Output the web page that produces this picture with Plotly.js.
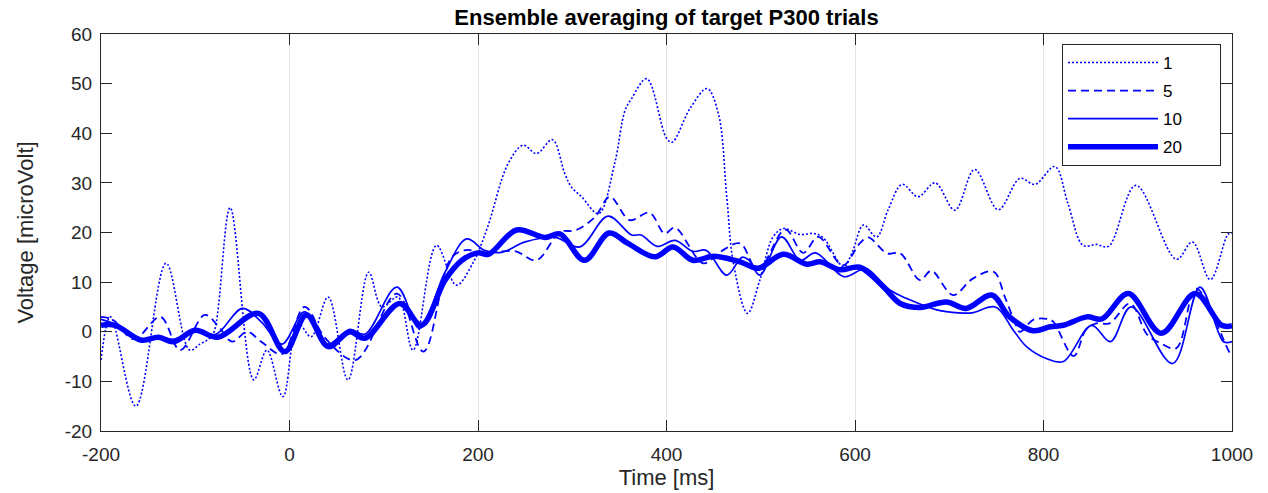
<!DOCTYPE html>
<html>
<head>
<meta charset="utf-8">
<script src="https://cdn.plot.ly/plotly-3.0.1.min.js"></script>
<style>
  html, body { margin: 0; padding: 0; background: #ffffff; }
  #chart { width: 1268px; height: 493px; }
</style>
</head>
<body>
<div id="chart"></div>
<script>
// ---- Data (time in ms, voltage in microVolt) ----
const seriesNames = ["1", "5", "10", "20"];

const time1 = [-200,-190,-163,-131,-106,-95,-86,-80,-63,-38,-24,-7,9,23,41,62,84,98,115,131,156,177,195,210,232,248,262,279,292,299,310,328,345,356,363,379,400,406,425,443,455,464,471,486,499,513,524,542,556,566,588,597,609,623,635,650,667,685,706,727,752,775,791,812,826,842,856,869,898,941,958,977,996,1000];
const v1    = [-5.7,3,-15,13.8,-3.7,-2.5,-1.5,0,25,-9.7,-3.7,-13.1,1.7,-1,7,-9.7,12,5,7,-3.7,17.4,9.4,14,21,33.9,37.6,35.9,38.7,31.9,29.2,27.2,23.8,33.9,44.6,47,51,39,38.2,45,49,44,27,13.8,3.7,10.4,19.1,20.8,19.6,19.8,19,13.1,16,21.5,19.1,24.5,29.7,27.2,30,24.5,32.7,24.6,30.9,29.7,33.3,25.8,17.4,17.6,17.2,29.5,14.6,18.1,10.5,19.7,19.8];

const time5 = [-200,-188,-165,-137,-116,-90,-75,-61,-45,-30,-8,16,38,70,114,142,172,190,200,215,240,262,287,303,324,340,361,382,398,409,439,457,478,497,526,545,561,587,605,614,634,648,669,681,704,725,747,759,770,775,789,803,810,832,845,856,870,892,910,924,941,962,998,1000];
const v5    = [3,2.5,-1.5,3,-3.7,3.4,1,-2,0,-2,-4.5,5,-1.3,-5.7,7.7,-4,15,16.5,15.8,16,16.2,14.4,20.1,20.4,23.1,27.2,22.5,24,19.8,21,13.8,16.1,17.8,12.4,20.6,15.9,19.1,13.4,17.8,19,15.8,15.8,10.4,12.3,7.4,10.7,12.1,7,1.7,0,2.4,2.6,2.1,-4.9,0.4,1.7,1.7,5.7,-0.6,-2.3,-3.3,8.7,-4.3,-4.5];

const time10 = [-200,-185,-160,-140,-123,-100,-78,-50,-30,-8,16,40,64,80,114,138,165,188,207,225,250,282,308,338,363,373,390,409,428,442,464,480,487,499,522,542,558,588,605,612,637,655,687,710,724,749,768,782,803,821,851,871,893,937,966,991,1000];
const v10    = [2.5,1.5,-1.5,-1,-1.5,0,-0.5,4.7,2,-2.5,4,-2.5,0.5,-0.5,9,0.7,12,18.7,16.4,16,18.1,19,17.1,23.3,19.5,19.5,17.2,18.4,16.2,16.4,11.4,15,14.5,11.4,19.1,14.4,15.9,11.1,12.4,12.8,8.4,6.7,4.4,3.8,3.8,5,0.3,-3,-5.4,-6,1.3,-2,5,-6.4,9,-2,-2];

const time20 = [-200,-185,-157,-139,-123,-100,-76,-33,-5,18,41,64,80,117,140,165,183,200,211,241,271,287,313,339,359,388,407,428,450,478,497,524,549,563,584,605,630,648,669,697,718,745,764,789,807,821,846,862,890,925,961,989,1000];
const v20    = [1.3,1.3,-1.7,-1.1,-2,0.3,-1.1,3.7,-4,3.4,-3,0,-1.3,5.7,1.3,10.4,14.4,15.9,15.6,20.5,19,19.7,14.4,19.9,17.8,15.1,17.1,14.4,15.2,14.1,12.8,15.6,13.6,14.1,12.5,13,9.1,5.7,4.9,6,4.7,7.4,3,0.2,1,1.3,3,2.6,7.7,-0.3,7.7,1.3,1.2];

const xTickVals = [-200, 0, 200, 400, 600, 800, 1000];
const yTickVals = [-20, -10, 0, 10, 20, 30, 40, 50, 60];

// ---- Styling ----
const BLUE = "#0000ff";
const FONT = "Liberation Sans, Arial, Helvetica, sans-serif";
const INK = "#262626";
// invisible right padding so the legend box is as wide as in the reference
const LEGEND_PAD = "\u00a0".repeat(7);

const traces = [
  {x: time1,  y: v1,  name: seriesNames[0], legendgroup: "g1", line: {color: BLUE, width: 1.6, dash: "2px,2px", shape: "spline", smoothing: 1}},
  {x: time5,  y: v5,  name: seriesNames[1], legendgroup: "g2", line: {color: BLUE, width: 1.8, dash: "8px,5px", shape: "spline", smoothing: 1}},
  {x: time10, y: v10, name: seriesNames[2], legendgroup: "g3", line: {color: BLUE, width: 1.7, shape: "spline", smoothing: 1}},
  {x: time20, y: v20, name: seriesNames[3], legendgroup: "g4", line: {color: BLUE, width: 5.5, shape: "spline", smoothing: 1}}
].map(t => Object.assign({type: "scatter", mode: "lines", hoverinfo: "skip"}, t, {name: t.name + LEGEND_PAD}));

const layout = {
  width: 1268,
  height: 493,
  paper_bgcolor: "#ffffff",
  plot_bgcolor: "#ffffff",
  margin: {l: 101, r: 36, t: 34, b: 62, pad: 0},
  font: {family: FONT, color: INK, size: 19},
  title: {
    text: "<b>Ensemble averaging of target P300 trials</b>",
    font: {family: FONT, size: 22, color: "#000000"},
    x: 0.5, xanchor: "center", xref: "paper",
    y: 1, yref: "paper", yanchor: "bottom", pad: {b: 9}
  },
  xaxis: {
    range: [-200, 1000],
    tickmode: "array", tickvals: xTickVals, ticktext: xTickVals.map(String),
    ticks: "inside", ticklen: 11, tickwidth: 1, tickcolor: INK,
    showline: true, linecolor: INK, linewidth: 1, mirror: "allticks",
    showgrid: true, gridcolor: "#e3e3e3", gridwidth: 1,
    zeroline: false,
    tickfont: {family: FONT, size: 19, color: INK},
    ticklabelstandoff: 6,
    title: {text: "Time [ms]", font: {family: FONT, size: 22, color: INK}, standoff: 3}
  },
  yaxis: {
    range: [-20, 60],
    tickmode: "array", tickvals: yTickVals, ticktext: yTickVals.map(String),
    ticks: "inside", ticklen: 11, tickwidth: 1, tickcolor: INK,
    showline: true, linecolor: INK, linewidth: 1, mirror: "allticks",
    showgrid: false, zeroline: false,
    tickfont: {family: FONT, size: 19, color: INK},
    ticklabelstandoff: 4,
    title: {text: "Voltage [microVolt]", font: {family: FONT, size: 22, color: INK}, standoff: 25}
  },
  showlegend: true,
  legend: {
    x: 0.8497, y: 0.975, xanchor: "left", yanchor: "top",
    bgcolor: "#ffffff", bordercolor: INK, borderwidth: 1,
    font: {family: FONT, size: 17, color: "#000000"},
    itemwidth: 90,
    traceorder: "grouped", tracegroupgap: 3
  }
};

Plotly.newPlot("chart", traces, layout, {staticPlot: true, displayModeBar: false});
</script>
</body>
</html>
